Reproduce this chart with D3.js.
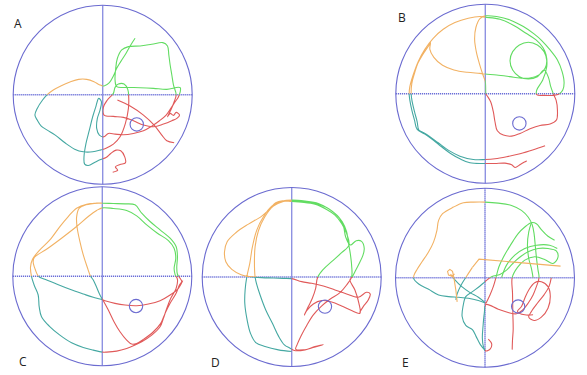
<!DOCTYPE html>
<html>
<head>
<meta charset="utf-8">
<script src="https://cdn.jsdelivr.net/npm/d3@7/dist/d3.min.js"></script>
<style>
  body { margin: 0; background: #fff; }
  svg { display: block; }
  text { font-family: "Open Sans", "Liberation Sans", sans-serif; }
</style>
</head>
<body>
<svg id="chart" width="587" height="375"></svg>
<script>
// Swim paths in camera pixel coordinates (tracker export), one array per trial
const labels = ["A", "B", "C", "D", "E"];
const poolCenters = [[308, 284], [316, 281], [307, 289], [290, 291], [300, 293]];
const poolRadii = [268, 268, 268, 269, 270];
const platforms = [[410, 373], [418, 370], [408, 378], [390, 380], [400, 380]];
const platformRadius = 20;

const trackA = [[
  [405,115],[392,135],[378,160],[362,185],[350,205],[340,228],[328,248],[312,258],
  [298,254],[282,245],[260,238],[236,238],[210,246],[184,257],[160,270],[142,284],
  [128,300],[112,325],[105,345],[112,360],[124,378],[142,390],[166,405],[195,428],[224,447],[250,455],[278,455],[300,450],
  [318,444],[340,432],[360,410],[376,370],[385,325],[386,295],
  [383,268],[372,252],[355,252],[345,262],[340,280],
  [322,300],[310,322],[312,345],[340,349],[370,352],[400,362],[430,375],[460,380],[490,372],[515,362],[531,354],[538,345],[528,337],[520,346],[510,340],[502,350],[512,330],[522,305],[528,284],
  [520,255],[515,225],[510,195],[506,165],[502,138],[488,128],[455,133],[420,138],[385,140],[365,150],[352,175],[347,205],[345,240],[350,260],[380,262],[420,263],[460,265],[500,268],[540,263],
  [535,290],[525,305],[512,325],[498,345],[478,362],[455,378],[430,392],[400,400],[370,404],[345,402],[325,400],[312,410],
  [298,405],[290,385],[292,355],[300,330],[304,305],[296,295],[288,318],[278,350],[268,390],[258,430],[252,470],[254,492],[265,496],[285,486],[302,478],
  [318,472],[332,460],[348,450],[362,452],[374,470],[376,488],[360,493],[346,500],[353,510],[338,516]
], [
  [352,300],[390,318],[430,345],[462,375],[485,405],[500,422],[522,428]
]];

const trackB = [[
  [495,437],[460,449],[420,461],[380,470],[345,476],[316,478],
  [280,478],[240,468],[205,450],[175,428],[148,408],[128,396],[117,390],[112,365],[104,335],[97,305],[94,282],
  [96,250],[104,220],[114,190],[128,165],[148,135],[152,128],[150,148],[162,172],[188,196],[222,210],[262,217],[300,220],[316,222],
  [350,225],[390,230],[420,234],[450,234],[478,224],[495,205],[500,182],[492,155],[472,135],[445,127],[418,135],[398,155],[390,182],[398,210],[418,230],[445,237],[472,230],[492,210],[505,232],[512,260],[520,282],
  [528,300],[532,330],[529,360],[510,372],[480,376],[450,386],[420,400],[395,408],[370,405],[352,392],[345,365],[340,335],[332,305],[322,288],[318,282],
  [317,262],[316,245],
  [308,222],[298,190],[289,155],[284,118],[288,82],[300,56],[316,48],
  [350,50],[390,60],[430,80],[462,102],[485,122],[510,150],[532,180],[546,215],[552,248],[548,270],[538,281],
  [520,286],[495,286],[470,284],
  [470,270],[488,240],[500,200],[498,165],[488,142],[468,120],[438,100],[400,76],[360,58],[316,52],
  [300,50],[265,55],[225,68],[190,88],[160,115],[135,148],[115,185],[100,225],[90,260],[88,282],
  [90,300],[96,330],[104,360],[112,388],[135,402],[160,420],[185,440],[212,460],[240,476],[270,488],[316,490],
  [345,490],[375,489],[395,494],[405,502],[422,492],[440,482]
]];

const trackC = [[
  [548,302],[535,325],[510,345],[480,362],[445,372],[410,377],[375,375],[345,370],[315,362],
  [300,357],[280,352],[250,342],[210,328],[170,312],[135,298],[116,289],
  [106,268],[100,245],[104,232],[140,208],[185,175],[230,140],[265,110],[290,92],[307,84],
  [340,86],[380,92],[410,108],[440,135],[472,160],[505,182],[522,205],[527,235],[522,265],[525,284],
  [532,298],[528,325],[512,355],[500,385],[490,415],[480,440],[455,465],[425,485],[405,495],[380,505],[350,513],[320,516],[307,516],
  [280,510],[250,502],[215,488],[180,465],[148,438],[125,410],[118,380],[115,345],[104,318],[95,289],
  [92,262],[98,238],[118,212],[150,180],[180,140],[205,110],[230,85],[260,73],[290,70],[307,70],
  [340,71],[375,72],[405,75],[425,100],[450,125],[480,150],[510,175],[528,200],[532,230],[530,262],[532,283],
  [540,295],[545,305],[538,315],[528,340],[510,370],[495,400],[482,430],[460,455],[430,478],[410,490],[395,492],[380,480],[360,455],[342,425],[325,390],[310,362],
  [300,345],[290,322],[280,300],[272,289],
  [262,262],[250,225],[240,185],[232,145],[230,112],[238,85],[258,75],[295,70],[307,70]
]];

const trackD = [[
  [290,515],[250,510],[210,500],[182,488],[166,460],[156,420],[149,370],[150,330],[155,291],
  [164,250],[172,200],[185,150],[205,110],[230,78],[262,63],[290,60],
  [330,63],[370,70],[400,85],[422,102],[442,125],[455,155],[460,185],[466,220],[470,255],[470,291],
  [455,315],[435,338],[405,358],[378,380],[355,405],[336,435],[318,468],[306,495],[302,508],[325,510],[355,503],[385,494],[360,500],[330,510],[298,512],
  [285,505],[268,495],[250,468],[232,430],[212,390],[195,345],[184,310],[180,291],
  [178,250],[180,200],[190,152],[208,112],[235,78],[265,64],[290,62],
  [320,64],[360,70],[395,82],[415,96],[432,112],[446,140],[452,170],[466,195],[484,182],[500,184],[508,205],[504,226],[492,252],[480,275],[472,291],
  [465,300],[480,330],[492,370],[495,400],[470,392],[440,378],[410,366],[380,362],[355,372],[335,392],[328,405],[340,380],[352,355],[362,325],[368,292],
  [385,268],[410,245],[440,218],[462,195],
  [455,160],[440,130],[420,105],[395,88],[360,72],[320,66],[290,64],
  [262,62],[242,68],[225,85],[200,108],[160,132],[122,158],[96,185],[88,215],[92,245],[110,268],[138,284],[165,290],
  [200,293],[235,294],[265,295],[290,296],
  [320,305],[350,310],[385,318],[420,330],[455,342],[490,352],[515,337],[526,342],[520,360],[505,380],[494,398]
]];

const trackE = [[
  [510,180],[490,168],[470,148],[455,130],[440,127],[420,140],[400,160],[385,182],[370,206],[355,232],[342,260],[333,293],[325,320],[315,345],[303,370]
], [
  [303,370],[280,362],[250,355],[220,352],[190,350],[160,345],[130,328],[100,312],[85,296],[86,285],[95,268],[110,245],[130,215],[145,185],[155,150],[160,120],[172,100],[205,80],[235,67],[265,65],[300,65],
  [340,68],[380,75],[410,90],[430,110],[442,132],[448,160],[452,200],[456,240],[460,270],[463,293],
  [455,320],[445,345],[430,370],[412,392],[395,402],[370,398],[340,388],[303,374],
  [298,400],[294,440],[292,475],[295,500],[302,514],[316,508],[320,492],[310,478]
], [
  [302,514],[286,495],[273,470],[262,450],[242,437],[231,410],[234,378],[242,350],[262,335],[285,318],[300,305],
  [320,290],[345,283],[365,270],[382,252],[400,235],[430,215],[460,205],[490,205],[515,212],[520,232],[505,250],[480,238],[450,230],[420,240],[398,262],[382,293],
  [383,340],[384,400],[385,450],[383,480],[382,510]
], [
  [196,282],[210,300],[230,320],[255,338],[280,352],[300,368]
], [
  [500,293],[493,320],[478,345],[458,370],[440,395],[432,412],[448,422],[470,412],[490,385],[497,350],[490,320],[470,305],[450,308],[432,330],[420,355],[410,380],[398,395],[420,405],[445,405]
], [
  [440,127],[432,155],[428,195],[432,235],[440,265],[445,293]
], [
  [350,293],[365,255],[390,225],[420,205],[455,195],[495,195],[518,205]
], [
  [262,262],[245,288],[228,315],[216,342],[212,360]
]];

// straight tracking gaps, kept in the colour of the zone they started from
const jumpsE = [
  [[528,258],[282,237],[262,262]],
  [[216,366],[212,330],[206,292],[202,274],[194,268],[187,274],[190,285],[200,288],[208,282]]
];

const tracks = [trackA, trackB, trackC, trackD, trackE];
const jumps = [[], [], [], [], jumpsE];

// layout
const panelCenters = [[102.7, 94.7], [485.3, 93.7], [102.3, 276.3], [291.7, 277], [485, 277.7]];
const panelR = 89.5;
const labelPos = [[14, 28], [398, 22], [19, 366], [211, 367], [402, 367]];
const zoneColors = { nw: "#f2b264", ne: "#62dc62", sw: "#45a8a2", se: "#e05a5a" };
const poolColor = "#6b6bd0";

const svg = d3.select("#chart");
const defs = svg.append("defs");

labels.forEach((lab, i) => {
  const [pcx, pcy] = panelCenters[i];
  const [ccx, ccy] = poolCenters[i];
  const r = poolRadii[i];
  const x = d3.scaleLinear().domain([ccx - r, ccx + r]).range([pcx - panelR, pcx + panelR]);
  const y = d3.scaleLinear().domain([ccy - r, ccy + r]).range([pcy - panelR, pcy + panelR]);

  const g = svg.append("g").attr("class", "panel-" + lab);

  // quadrant clips
  const zones = [
    { key: "nw", x0: pcx - 100, y0: pcy - 100 },
    { key: "ne", x0: pcx, y0: pcy - 100 },
    { key: "sw", x0: pcx - 100, y0: pcy },
    { key: "se", x0: pcx, y0: pcy }
  ];
  zones.forEach(z => {
    defs.append("clipPath").attr("id", `clip-${lab}-${z.key}`)
      .append("rect").attr("x", z.x0).attr("y", z.y0).attr("width", 100).attr("height", 100);
  });

  // axes through the pool centre
  const dotted = lab === "E";
  g.append("line")
    .attr("x1", x(ccx - r)).attr("x2", x(ccx + r)).attr("y1", y(ccy)).attr("y2", y(ccy))
    .attr("stroke", "#6a6ed8").attr("stroke-width", 1.6).attr("stroke-dasharray", "1.2,0.8");
  g.append("line")
    .attr("x1", x(ccx)).attr("x2", x(ccx)).attr("y1", y(ccy - r)).attr("y2", y(ccy + r))
    .attr("stroke", dotted ? "#6a6ed8" : "#8e92e2").attr("stroke-width", dotted ? 1.6 : 1.4)
    .attr("stroke-dasharray", dotted ? "1.2,0.8" : null);

  // pool wall
  g.append("circle")
    .attr("cx", x(ccx)).attr("cy", y(ccy)).attr("r", x(ccx + r) - x(ccx))
    .attr("fill", "none").attr("stroke", poolColor).attr("stroke-width", 1.1);

  const line = d3.line().x(d => x(d[0])).y(d => y(d[1])).curve(d3.curveCatmullRom.alpha(0.5));
  const straight = d3.line().x(d => x(d[0])).y(d => y(d[1]));

  zones.forEach(z => {
    g.append("g").attr("clip-path", `url(#clip-${lab}-${z.key})`)
      .selectAll("path")
      .data(tracks[i])
      .join("path")
      .attr("d", line)
      .attr("fill", "none")
      .attr("stroke", zoneColors[z.key])
      .attr("stroke-width", 1.1)
      .attr("stroke-linejoin", "round");
  });

  g.selectAll("path.jump")
    .data(jumps[i])
    .join("path")
    .attr("class", "jump")
    .attr("d", straight)
    .attr("fill", "none")
    .attr("stroke", zoneColors.nw)
    .attr("stroke-width", 1.1);

  // platform
  const [px, py] = platforms[i];
  g.append("circle")
    .attr("cx", x(px)).attr("cy", y(py)).attr("r", x(ccx + platformRadius) - x(ccx))
    .attr("fill", "none").attr("stroke", poolColor).attr("stroke-width", 1.1);

  svg.append("text")
    .attr("x", labelPos[i][0]).attr("y", labelPos[i][1])
    .attr("font-size", 12).attr("fill", "#222")
    .text(lab);
});
</script>
</body>
</html>
